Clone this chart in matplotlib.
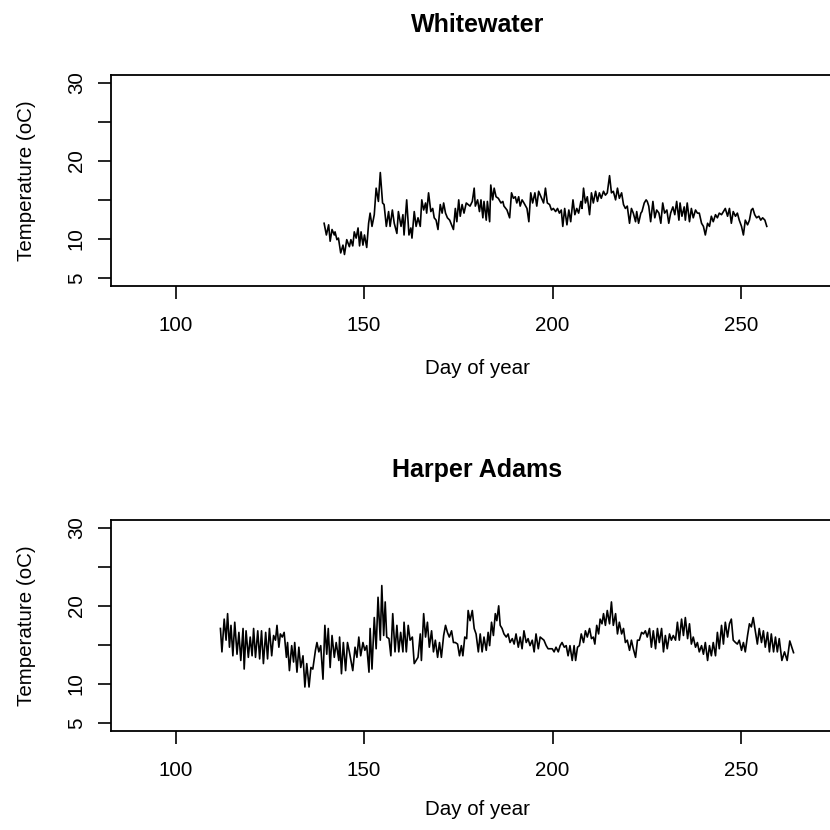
"""Two-panel stream temperature series (Whitewater, Harper Adams) in base-R style."""

import matplotlib

matplotlib.use("Agg")

import matplotlib.pyplot as plt

plt.rcParams["font.family"] = ["Liberation Sans", "DejaVu Sans"]

# Whitewater: day of year and temperature (oC)
wt_day = [
    139.4, 140.0, 140.6, 141.0, 141.5, 142.1, 142.3, 142.8, 143.2, 143.8,
    144.4, 144.8, 145.4, 146.1, 146.5, 147.0, 147.4, 147.9, 148.4, 148.8,
    149.2, 149.7, 150.1, 150.7, 151.2, 151.6, 152.1, 152.7, 153.2, 153.8,
    154.3, 154.9, 155.3, 155.9, 156.5, 156.9, 157.5, 158.0, 158.7, 159.1,
    159.8, 160.3, 160.6, 161.3, 161.9, 162.4, 162.7, 163.3, 163.8, 164.3,
    164.9, 165.3, 165.8, 166.3, 166.6, 167.1, 167.7, 168.2, 168.6, 169.1,
    169.6, 170.2, 170.7, 171.1, 171.6, 172.1, 172.7, 173.2, 173.7, 174.2,
    174.6, 175.1, 175.5, 176.0, 176.5, 177.1, 177.6, 178.1, 178.7, 179.2,
    179.5, 180.1, 180.6, 181.0, 181.5, 181.8, 182.4, 182.7, 183.3, 183.6,
    184.1, 184.5, 185.0, 185.6, 186.3, 186.8, 187.1, 187.9, 188.6, 189.1,
    189.6, 190.1, 190.5, 191.0, 191.4, 191.9, 192.4, 193.2, 193.7, 194.2,
    194.7, 195.3, 195.8, 196.3, 196.9,
    197.6, 198.1, 198.6, 199.2, 199.7, 200.2, 200.8, 201.3, 201.8, 202.3,
    202.7, 203.2, 203.8, 204.3, 204.8, 205.4, 205.9, 206.4, 206.9, 207.5,
    207.8, 208.2, 208.7, 209.2, 209.8, 210.3, 210.8, 211.4, 211.9, 212.4,
    212.9, 213.5, 214.0, 214.5, 215.1, 215.6, 216.1, 216.7, 217.2, 217.7,
    218.3, 218.8, 219.3, 219.8, 220.4, 220.9, 221.4, 222.0, 222.3, 222.8,
    223.4, 223.7, 224.3, 224.8, 225.1, 225.5, 226.0, 226.6, 227.1, 227.6,
    228.2, 228.7, 229.2, 229.7, 230.3, 230.8, 231.3, 231.9, 232.4, 232.9,
    233.5, 233.8, 234.3, 234.9, 235.2, 235.7, 236.3, 236.8, 237.3, 237.9,
    238.4, 238.9, 239.5, 240.0, 240.5, 241.1, 241.6, 242.1, 242.6, 243.2,
    243.7, 244.2, 244.8, 245.3, 245.8, 246.4, 246.9, 247.4, 247.9, 248.5,
    249.0, 249.5, 250.1, 250.6, 251.1, 251.7, 252.2, 252.7, 253.1, 253.6,
    254.1, 254.7, 255.2, 255.7, 256.3, 256.8,
]
wt_temp = [
    12.0, 10.5, 11.8, 9.7, 11.2, 10.5, 10.9, 9.9, 10.1, 8.2,
    9.2, 8.0, 9.9, 9.0, 9.9, 9.1, 10.9, 10.1, 11.4, 9.1,
    10.9, 9.2, 10.5, 8.9, 12.0, 13.3, 11.6, 13.1, 16.5, 14.8,
    18.5, 14.6, 14.4, 11.6, 13.5, 11.6, 13.7, 12.0, 10.7, 13.5,
    11.6, 13.1, 10.5, 15.0, 10.5, 11.4, 10.1, 13.5, 11.6, 12.7,
    11.6, 15.0, 13.7, 14.6, 13.3, 15.9, 13.5, 13.9, 12.7, 12.4,
    11.2, 14.4, 13.3, 14.6, 13.3, 12.7, 12.4, 11.8, 11.2, 13.9,
    12.2, 15.0, 12.9, 14.4, 13.3, 14.6, 14.4, 14.2, 14.8, 16.5,
    14.2, 15.0, 13.5, 15.0, 12.7, 14.8, 12.4, 14.8, 12.2, 16.9,
    15.0, 16.5, 15.4, 15.2, 14.6, 14.8, 14.2, 13.7, 12.7, 15.9,
    15.2, 15.4, 14.6, 15.4, 14.2, 15.0, 14.6, 13.9, 12.2, 15.9,
    14.6, 15.9, 14.2, 16.1, 15.4,
    14.6, 16.5, 14.6, 14.4, 13.7, 13.9, 13.5, 13.9, 13.3, 13.7,
    11.6, 13.9, 11.8, 13.7, 12.2, 15.0, 13.1, 13.9, 13.3, 14.8,
    13.9, 16.5, 14.6, 15.4, 13.1, 15.9, 14.6, 16.1, 14.8, 15.9,
    15.2, 16.1, 15.6, 15.9, 18.1, 15.9, 16.1, 15.0, 16.5, 15.2,
    15.9, 14.4, 13.9, 14.2, 12.0, 13.9, 13.3, 12.2, 13.5, 12.0,
    13.3, 13.5, 14.6, 15.0, 14.8, 14.2, 12.2, 14.8, 12.7, 13.7,
    13.3, 12.0, 14.6, 13.3, 13.7, 12.0, 13.3, 14.1, 13.1, 14.8,
    12.4, 14.6, 12.9, 14.1, 12.4, 14.6, 12.2, 13.9, 12.7, 13.7,
    13.3, 13.3, 12.0, 11.6, 10.5, 12.0, 11.6, 12.9, 12.2, 13.1,
    12.7, 13.3, 13.1, 13.5, 13.9, 12.9, 13.9, 12.0, 13.5, 12.9,
    13.3, 12.4, 11.6, 10.5, 12.4, 11.8, 12.4, 13.7, 13.9, 13.1,
    12.7, 12.9, 12.4, 12.7, 12.4, 11.6,
]

# Harper Adams
ha_day = [
    111.9, 112.3, 112.9, 113.4, 113.8, 114.3, 114.7, 115.2, 115.7, 116.3,
    116.8, 117.3, 117.9, 118.2, 118.7, 119.3, 119.8, 120.3, 120.7, 121.2,
    121.8, 122.3, 122.8, 123.3, 123.9, 124.4, 124.9, 125.5, 126.0, 126.5,
    126.9, 127.4, 127.8, 128.3, 128.8, 129.4, 129.7, 130.2, 130.8, 131.3,
    131.6, 132.2, 132.7, 133.2, 133.8, 134.3, 134.8, 135.4, 135.9, 136.4,
    137.1, 137.5, 138.0, 138.5, 139.1, 139.6, 140.1, 140.5, 141.0, 141.5,
    142.1, 142.6, 143.3,
    143.5, 144.0, 144.5, 145.1, 145.6, 146.1, 146.5, 147.0, 147.6, 148.1,
    148.6, 149.1, 149.7, 150.2, 150.7, 151.3, 151.6, 152.1, 152.7, 153.2,
    153.7, 154.3, 154.7, 155.2, 155.6, 156.0, 156.6, 157.1, 157.6, 158.2,
    158.7, 159.2, 159.7, 160.3, 160.6, 161.2, 161.7, 162.2, 162.8, 163.3,
    163.8, 164.3, 164.9, 165.2, 165.8, 166.3, 166.8, 167.3, 167.9, 168.4,
    168.9, 169.5, 170.0, 170.5, 171.1, 171.6, 172.1, 172.6, 173.2, 173.7,
    174.2, 174.8, 175.3, 175.8, 176.2, 176.7, 177.2, 177.6, 178.1, 178.7,
    179.2, 179.7, 180.3, 180.8, 181.3, 181.8, 182.4, 182.9, 183.3, 183.8,
    184.3, 184.8, 185.2, 185.7, 186.1, 186.6, 187.1, 187.7, 188.2, 188.7,
    189.3, 189.8, 190.3, 190.9, 191.4, 191.9, 192.4, 193.0, 193.5, 194.0,
    194.6, 195.1, 195.6, 196.2, 196.7, 197.2, 197.7, 198.3, 198.8, 199.3,
    199.9, 200.4, 200.9, 201.5, 202.0, 202.5, 203.1, 203.6, 204.1,
    204.6, 205.2, 205.7, 206.1, 206.6, 207.1, 207.6, 208.2, 208.7, 209.2,
    209.8, 210.3, 210.8, 211.2, 211.7, 212.2, 212.6, 213.1, 213.5, 214.0,
    214.5, 215.1, 215.6, 216.1, 216.7, 217.2, 217.7, 218.3, 218.8, 219.3,
    219.8, 220.4, 220.9, 221.4, 222.0, 222.5, 223.0, 223.6, 224.1, 224.6,
    225.1, 225.7, 226.2, 226.7, 227.3, 227.8, 228.3, 228.9, 229.4, 229.9,
    230.4, 231.0, 231.5, 232.0, 232.6, 233.1, 233.6, 234.2, 234.7, 235.2,
    235.8, 236.3, 236.8, 237.3, 237.9, 238.4, 238.9, 239.5, 240.0, 240.5,
    241.1, 241.6, 242.1, 242.6, 243.2, 243.7, 244.2, 244.8, 245.3, 245.8,
    246.4, 246.9, 247.4, 247.9, 248.5, 249.0, 249.5, 250.1, 250.6, 251.1,
    251.7, 252.2, 252.7, 253.2, 253.8, 254.3, 254.8, 255.4, 255.9, 256.4,
    257.0, 257.5, 258.0, 258.6, 259.1, 259.6, 260.1,
    260.8, 261.5, 262.2, 262.9, 263.9,
]
ha_temp = [
    17.1, 14.1, 18.3, 15.6, 19.0, 14.7, 17.5, 13.6, 17.9, 13.8,
    16.6, 13.0, 17.1, 11.9, 16.8, 13.4, 16.0, 13.6, 17.1, 13.4,
    16.8, 13.2, 16.8, 12.6, 16.6, 13.2, 17.1, 13.6, 16.2, 15.6,
    17.5, 14.7, 16.4, 16.0, 16.6, 13.4, 15.3, 11.7, 14.9, 12.8,
    15.3, 11.5, 14.7, 12.1, 13.6, 9.6, 12.6, 9.6, 12.1, 11.9,
    14.3, 15.3, 14.1, 14.9, 10.6, 17.5, 13.8, 17.1, 12.1, 16.2,
    13.4, 15.3, 13.0,
    16.0, 11.3, 15.3, 11.7, 15.3, 14.1, 13.0, 11.7, 14.7, 13.4,
    16.0, 13.6, 15.3, 14.3, 14.9, 11.5, 17.1, 11.9, 18.5, 14.5,
    21.1, 15.6, 22.6, 16.2, 20.5, 16.0, 15.8, 13.6, 19.0, 14.1,
    17.5, 14.1, 16.6, 14.1, 17.9, 14.1, 17.5, 15.6, 16.0, 12.6,
    13.0, 13.4, 16.4, 13.0, 19.0, 16.0, 17.9, 14.7, 16.8, 14.1,
    15.6, 13.4, 15.3, 13.4, 16.2, 17.5, 16.6, 16.0, 16.8, 15.3,
    15.3, 15.1, 13.6, 14.9, 13.6, 16.0, 15.8, 19.4, 18.1, 19.4,
    17.1, 16.4, 14.1, 16.4, 14.1, 16.0, 14.3, 16.6, 14.9, 17.9,
    16.2, 19.0, 18.1, 20.0, 17.5, 17.1, 16.4, 16.0, 16.4, 15.3,
    15.8, 15.1, 16.4, 14.7, 16.0, 14.5, 16.8, 15.3, 15.8, 14.9,
    15.6, 14.1, 16.4, 14.5, 16.0, 15.8, 15.6, 14.9, 14.5, 14.5,
    14.5, 14.1, 14.7, 14.1, 14.9, 15.3, 14.7, 14.9, 13.6,
    14.9, 13.0, 14.9, 13.0, 14.7, 14.9, 16.4, 15.3, 16.8, 16.0,
    17.1, 15.8, 16.0, 15.1, 17.5, 16.4, 18.3, 17.7, 19.0, 17.5,
    19.4, 17.7, 20.5, 17.5, 19.0, 16.4, 17.9, 16.4, 17.1, 15.3,
    15.6, 14.3, 15.6, 14.5, 13.4, 15.6, 15.6, 16.6, 16.4, 16.8,
    16.0, 17.1, 14.7, 16.8, 14.5, 17.1, 15.3, 17.1, 14.1, 16.2,
    14.5, 16.4, 15.6, 16.2, 15.6, 17.9, 15.6, 18.3, 16.2, 18.5,
    15.8, 17.7, 15.1, 16.0, 14.7, 15.3, 14.1, 14.9, 13.8, 15.3,
    13.0, 14.9, 13.6, 15.3, 13.6, 16.6, 14.5, 17.5, 15.1, 17.9,
    16.0, 17.7, 18.3, 15.6, 15.3, 15.1, 15.6, 14.3, 15.3, 14.1,
    16.2, 17.7, 17.3, 18.5, 16.6, 15.1, 17.1, 15.3, 16.8, 14.7,
    16.6, 14.1, 16.4, 14.1, 16.0, 14.1, 15.8,
    13.0, 14.1, 13.0, 15.5, 14.0,
]

panels = [("Whitewater", wt_day, wt_temp), ("Harper Adams", ha_day, ha_temp)]
x_ticks = [100, 150, 200, 250]
y_ticks = [5, 10, 15, 20, 25, 30]
y_tick_labels = ["5", "10", "", "20", "", "30"]

FIG_PX = 830
FONT = 14.8


def px_rect(left, top, right, bottom):
    return [left / FIG_PX, 1 - bottom / FIG_PX, (right - left) / FIG_PX, (bottom - top) / FIG_PX]


fig = plt.figure(figsize=(8.3, 8.3), dpi=100)

# R-style plot regions: box tops at 75 and 520 px, right edge runs past the figure
offsets = [0, 445]
xlab_y = [368, 809]
for (title, days, temps), dy, xy in zip(panels, offsets, xlab_y):
    ax = fig.add_axes(px_rect(110.7, 75 + dy, 843.7, 285.7 + dy))
    ax.plot(days, temps, color="black", linewidth=1.2)
    ax.set_xlim(82.8, 277.2)
    ax.set_ylim(4, 31)
    ax.set_xticks(x_ticks)
    ax.set_xticklabels([str(t) for t in x_ticks], fontsize=FONT)
    ax.set_yticks(y_ticks)
    ax.set_yticklabels(y_tick_labels, fontsize=FONT, rotation=90, va="center")
    ax.tick_params(axis="both", direction="out", length=9.4, width=1.2)
    ax.tick_params(axis="x", pad=12.5)
    ax.tick_params(axis="y", pad=8.5)
    for spine in ax.spines.values():
        spine.set_linewidth(1.3)

    cx = (110.7 + 843.7) / 2 / FIG_PX
    fig.text(cx, 1 - (25 + dy) / FIG_PX, title, ha="center", va="center",
             fontsize=18, fontweight="bold")
    fig.text(cx, 1 - xy / FIG_PX, "Day of year", ha="center", va="center",
             fontsize=FONT)
    fig.text(26 / FIG_PX, 1 - (180.4 + dy) / FIG_PX, "Temperature (oC)", ha="center",
             va="center", rotation=90, fontsize=FONT)

fig.savefig("out.png", dpi=100, facecolor="white")
